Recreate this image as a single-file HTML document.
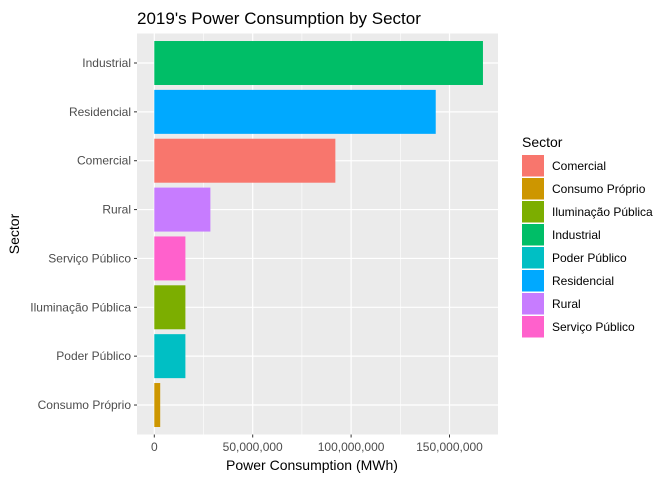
<!DOCTYPE html>
<html><head><meta charset="utf-8"><style>
body{margin:0;background:#fff;font-family:"Liberation Sans",Arial,sans-serif}
svg text{font-family:"Liberation Sans",Arial,sans-serif}
</style></head><body>
<svg id="chart" width="672" height="480" xmlns="http://www.w3.org/2000/svg">
<text x="137" y="24" font-size="17" fill="#000">2019's Power Consumption by Sector</text>
<rect x="137" y="33.5" width="361" height="401" fill="#EBEBEB"/>
<g id="grid"></g>
<g id="bars"></g>
<g id="yaxis"></g>
<g id="xaxis"></g>
<text x="312" y="470" font-size="14" text-anchor="middle" fill="#000">Power Consumption (MWh)</text>
<text transform="translate(19,234) rotate(-90)" font-size="14" text-anchor="middle" fill="#000">Sector</text>
<g id="legend"></g>
</svg>
<script>
const categories=["Industrial","Residencial","Comercial","Rural","Serviço Público","Iluminação Pública","Poder Público","Consumo Próprio"];
const values=[167000000,143000000,92000000,28500000,15800000,15800000,15800000,3000000];
const colors=["#00BE67","#00A9FF","#F8766D","#C77CFF","#FF61CC","#7CAE00","#00BFC4","#CD9600"];
const xTicks=[0,50000000,100000000,150000000];
const xTickLabels=["0","50,000,000","100,000,000","150,000,000"];
const legendLabels=["Comercial","Consumo Próprio","Iluminação Pública","Industrial","Poder Público","Residencial","Rural","Serviço Público"];
const legendColors=["#F8766D","#CD9600","#7CAE00","#00BE67","#00BFC4","#00A9FF","#C77CFF","#FF61CC"];
const NS="http://www.w3.org/2000/svg";
const x=v=>154.3+v*(98.4/50000000);
const band=48.86, y0=63;
const y=i=>y0+i*band;
function mk(t,a,p){const e=document.createElementNS(NS,t);for(const k in a)e.setAttribute(k,a[k]);p.appendChild(e);return e;}
const grid=document.getElementById('grid');
for(let i=0;i<xTicks.length-1;i++){const xm=x((xTicks[i]+xTicks[i+1])/2);
const l=mk('line',{x1:xm,x2:xm,y1:33.5,y2:434.5,stroke:'#fff','stroke-width':0.6},grid);

}
const lm=mk('line',{x1:x(175000000),x2:x(175000000),y1:33.5,y2:434.5,stroke:'#fff','stroke-width':0.6},grid);


xTicks.forEach(t=>{const l=mk('line',{x1:x(t),x2:x(t),y1:33.5,y2:434.5,stroke:'#fff','stroke-width':1.2},grid);

});
categories.forEach((c,i)=>{const l=mk('line',{x1:137,x2:498,y1:y(i),y2:y(i),stroke:'#fff','stroke-width':1.2},grid);

});
const bars=document.getElementById('bars');
categories.forEach((c,i)=>{const r=mk('rect',{x:x(0),y:y(i)-band*0.45,width:x(values[i])-x(0),height:band*0.9,fill:colors[i]},bars);

});
const ya=document.getElementById('yaxis');
categories.forEach((c,i)=>{mk('line',{x1:134,x2:137,y1:y(i),y2:y(i),stroke:'#333','stroke-width':1},ya);
const t=mk('text',{x:131,y:y(i)+4,'font-size':12,'text-anchor':'end',fill:'#4D4D4D'},ya);t.textContent=c;

});
const xa=document.getElementById('xaxis');
xTicks.forEach((v,i)=>{mk('line',{x1:x(v),x2:x(v),y1:434.5,y2:437.5,stroke:'#333','stroke-width':1},xa);
const t=mk('text',{x:x(v),y:451,'font-size':12,'text-anchor':'middle',fill:'#4D4D4D'},xa);t.textContent=xTickLabels[i];

});
const lg=document.getElementById('legend');
const tt=mk('text',{x:522,y:147,'font-size':14,fill:'#000'},lg);tt.textContent="Sector";


legendLabels.forEach((l,i)=>{const ty=155+i*23;
const r=mk('rect',{x:522,y:ty,width:22,height:21.5,fill:legendColors[i]},lg);


const t=mk('text',{x:552,y:ty+15,'font-size':12,fill:'#000'},lg);t.textContent=l;

});
</script>
</body></html>
